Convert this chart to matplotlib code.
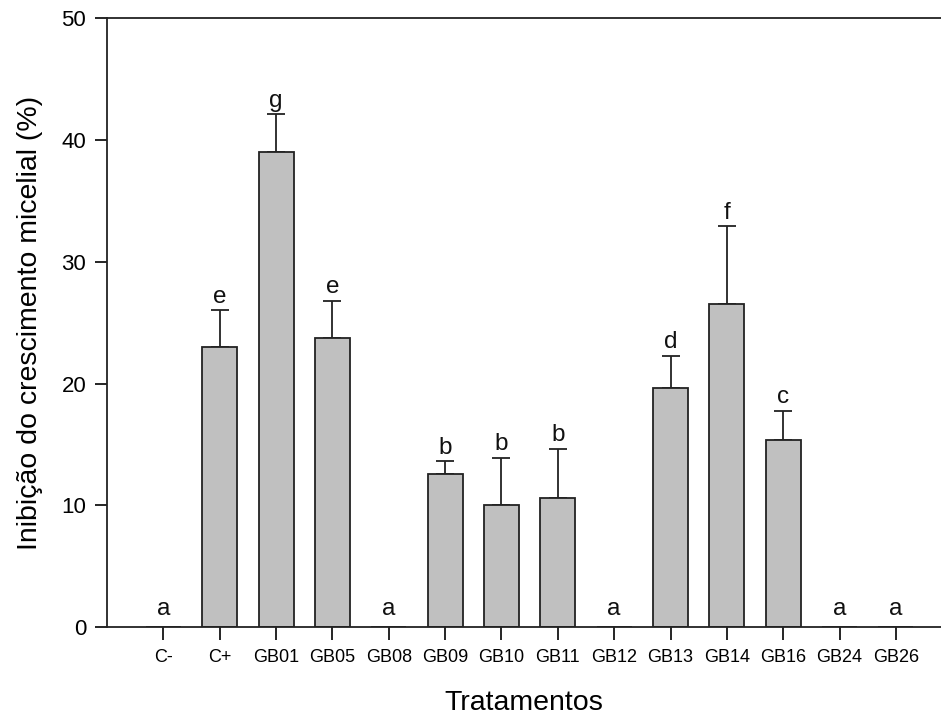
import matplotlib
matplotlib.use("Agg")
import matplotlib.pyplot as plt
import numpy as np

plt.rcParams['font.family'] = ['Liberation Sans', 'DejaVu Sans']

tratamentos = ["C-", "C+", "GB01", "GB05", "GB08", "GB09", "GB10", "GB11",
               "GB12", "GB13", "GB14", "GB16", "GB24", "GB26"]
inibicao = [0, 23.0, 39.0, 23.7, 0, 12.6, 10.0, 10.6, 0, 19.6, 26.5, 15.4, 0, 0]
erro = [0, 3.0, 3.1, 3.1, 0, 1.0, 3.9, 4.05, 0, 2.7, 6.4, 2.35, 0, 0]
letras = ["a", "e", "g", "e", "a", "b", "b", "b", "a", "d", "f", "c", "a", "a"]

fig = plt.figure(figsize=(9.41, 7.17), dpi=100)
ax = fig.add_axes([0.1137, 0.1255, 0.8863, 0.849])

x = np.arange(len(tratamentos))
ax.bar(x, inibicao, width=0.62, color="#c0c0c0", edgecolor="#222222",
       linewidth=1.3, zorder=2)

# only the upper half of the error bars
tem_erro = np.array(erro) > 0
ax.errorbar(x[tem_erro], np.array(inibicao)[tem_erro],
            yerr=[np.zeros(tem_erro.sum()), np.array(erro)[tem_erro]],
            fmt="none", ecolor="#222222", elinewidth=1.3, capsize=6.5,
            capthick=1.3, zorder=1)

for xi, v, e, l in zip(x, inibicao, erro, letras):
    topo = v + e
    off = 2 if topo > 0 else 5
    ax.annotate(l, (xi, topo), xytext=(0, off), textcoords="offset points",
                ha="center", va="bottom", fontsize=17.5, color="#111111")

ax.set_xlim(-1, 13.8)
ax.set_ylim(0, 50)
ax.set_yticks([0, 10, 20, 30, 40, 50])
ax.set_xticks(x)
ax.set_xticklabels(tratamentos, fontsize=13)
ax.tick_params(axis="y", labelsize=16, length=9, width=1.2, direction="out", pad=6)
ax.tick_params(axis="x", length=9, width=1.2, direction="out", pad=7)

ax.spines["right"].set_visible(False)
for s in ["left", "bottom", "top"]:
    ax.spines[s].set_linewidth(1.3)
    ax.spines[s].set_color("#222222")

ax.set_xlabel("Tratamentos", fontsize=20.5, labelpad=17)
ax.set_ylabel("Inibição do crescimento micelial (%)", fontsize=20.5, labelpad=13)

fig.savefig("out.png", dpi=100)
